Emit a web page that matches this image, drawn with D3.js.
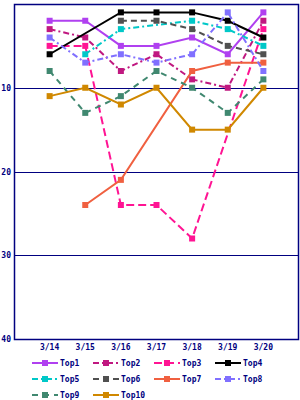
<!DOCTYPE html>
<html>
<head>
<meta charset="utf-8">
<script src="https://cdn.jsdelivr.net/npm/d3@7"></script>
<style>
  body { margin: 0; background: #fff; }
  text { font-family: "DejaVu Sans Mono", monospace; font-size: 8px; font-weight: bold; fill: #000080; }
</style>
</head>
<body>
<div id="canvas"></div>
<script>
// dates on the x axis
const days = ["3/14", "3/15", "3/16", "3/17", "3/18", "3/19", "3/20"];
const yTicks = [10, 20, 30, 40];

// rank of each item per day (null = no point that day)
const top1 = [2, 2, 5, 5, 4, 6, 1];
const top2 = [3, 4, 8, 6, 9, 10, 2];
const top3 = [5, 5, 24, 24, 28, null, 3];
const top4 = [6, null, 1, 1, 1, 2, 4];
const top5 = [null, 6, 3, null, 2, 3, 5];
const top6 = [null, null, 2, 2, 3, 5, 6];
const top7 = [null, 24, 21, null, 8, 7, 7];
const top8 = [4, 7, 6, 7, 6, 1, 8];
const top9 = [8, 13, 11, 8, 10, 13, 9];
const top10 = [11, 10, 12, 10, 15, 15, 10];

const names = ["Top1", "Top2", "Top3", "Top4", "Top5", "Top6", "Top7", "Top8", "Top9", "Top10"];
const values = [top1, top2, top3, top4, top5, top6, top7, top8, top9, top10];

const colors = ["#b040f0", "#c01880", "#ff1493", "#000000", "#00c8c8",
                "#505050", "#f06040", "#8070ff", "#408870", "#d08800"];
const dashes = [null, "6,3,2,3", "8,4", null, "6,3,2,3",
                "6,4", null, "6,3,2,3", "6,5", null];

const width = 300, height = 400;
const margin = { top: 4, left: 14, right: 1, bottom: 61 };
const iwidth = width - margin.left - margin.right;
const iheight = height - margin.top - margin.bottom;

const svg = d3.select("#canvas").append("svg")
  .attr("width", width)
  .attr("height", height);

const g = svg.append("g").attr("transform", `translate(${margin.left},${margin.top})`);

const x = d3.scalePoint().domain(days).range([0, iwidth]).padding(1);
const y = d3.scaleLinear().domain([0, 40]).range([0, iheight]);

// grid lines
g.selectAll(".grid").data(yTicks.slice(0, 3)).enter()
  .append("line")
  .attr("x1", 0).attr("x2", iwidth)
  .attr("y1", d => Math.round(y(d)) + 0.5).attr("y2", d => Math.round(y(d)) + 0.5)
  .attr("stroke", "#000080").attr("stroke-width", 1);

g.append("rect")
  .attr("x", 0.5).attr("y", 0.5)
  .attr("width", iwidth - 1).attr("height", iheight)
  .attr("fill", "none").attr("stroke", "#000080").attr("stroke-width", 1.5);

// y axis labels
g.selectAll(".ylab").data(yTicks).enter()
  .append("text")
  .attr("x", -3).attr("y", d => y(d) + 3)
  .attr("text-anchor", "end")
  .text(d => d);

// x axis labels
g.selectAll(".xlab").data(days).enter()
  .append("text")
  .attr("x", d => x(d)).attr("y", iheight + 11)
  .attr("text-anchor", "middle")
  .text(d => d);

const line = d3.line().x(d => x(d.day)).y(d => y(d.v));

values.forEach((vals, i) => {
  const pts = days.map((d, j) => ({ day: d, v: vals[j] })).filter(p => p.v !== null);
  g.append("path")
    .datum(pts)
    .attr("d", line)
    .attr("fill", "none")
    .attr("stroke", colors[i])
    .attr("stroke-width", 2)
    .attr("stroke-dasharray", dashes[i]);
  g.selectAll(".m" + i).data(pts).enter()
    .append("rect")
    .attr("x", d => x(d.day) - 3).attr("y", d => y(d.v) - 3)
    .attr("width", 6).attr("height", 6)
    .attr("fill", colors[i]);
});

// legend
const legend = svg.append("g");
names.forEach((n, i) => {
  const lx = 32 + (i % 4) * 61;
  const ly = 363 + Math.floor(i / 4) * 16;
  legend.append("line")
    .attr("x1", lx).attr("x2", lx + 26)
    .attr("y1", ly).attr("y2", ly)
    .attr("stroke", colors[i]).attr("stroke-width", 2)
    .attr("stroke-dasharray", dashes[i]);
  legend.append("rect")
    .attr("x", lx + 10).attr("y", ly - 3)
    .attr("width", 6).attr("height", 6)
    .attr("fill", colors[i]);
  legend.append("text")
    .attr("x", lx + 28).attr("y", ly + 3)
    .text(n);
});
</script>
</body>
</html>
